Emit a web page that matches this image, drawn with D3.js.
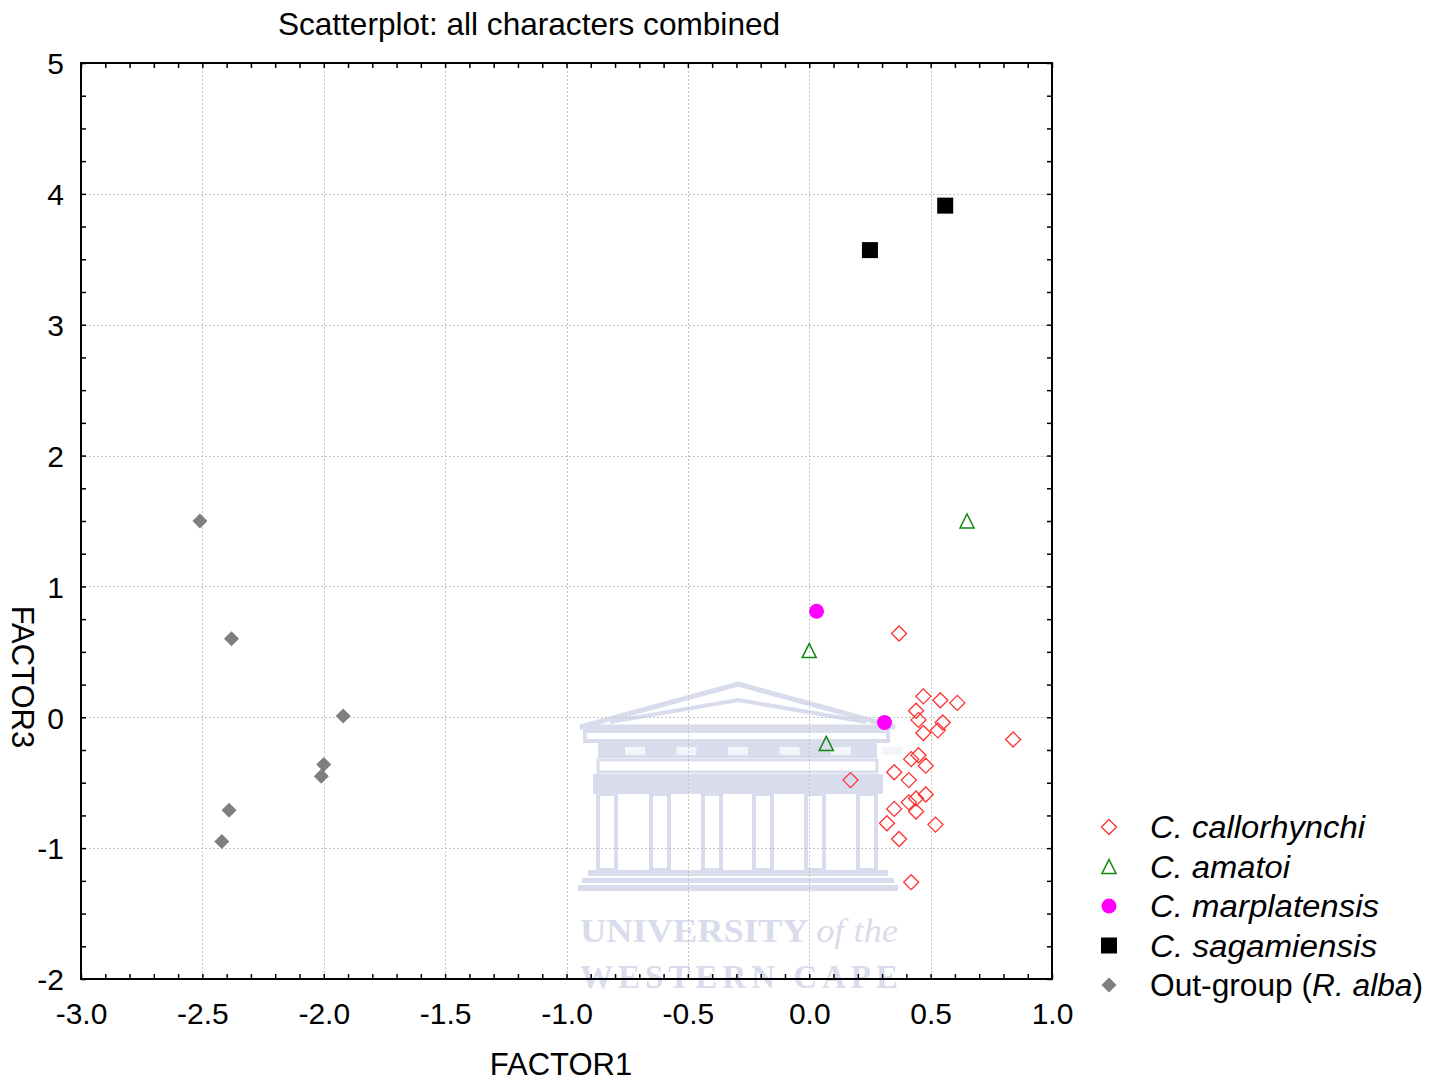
<!DOCTYPE html>
<html>
<head>
<meta charset="utf-8">
<script src="https://cdn.jsdelivr.net/npm/d3@7"></script>
<style>
  html, body { margin: 0; padding: 0; background: #fff; }
  svg { display: block; font-family: "Liberation Sans", Arial, sans-serif; }
</style>
</head>
<body>
<svg id="chart" width="1442" height="1082"></svg>
<script>
// ---------- DATA ----------
const xTicks = [-3.0, -2.5, -2.0, -1.5, -1.0, -0.5, 0.0, 0.5, 1.0];
const yTicks = [-2, -1, 0, 1, 2, 3, 4, 5];

const callorhynchi = [
  [0.37, 0.64], [0.47, 0.16], [0.54, 0.13], [0.61, 0.11], [0.44, 0.05],
  [0.45, -0.02], [0.55, -0.04], [0.47, -0.12], [0.53, -0.10], [0.84, -0.17],
  [0.42, -0.32], [0.45, -0.29], [0.48, -0.37], [0.35, -0.42], [0.41, -0.48],
  [0.17, -0.48], [0.48, -0.59], [0.44, -0.62], [0.41, -0.65], [0.35, -0.70],
  [0.44, -0.72], [0.32, -0.81], [0.52, -0.82], [0.37, -0.93], [0.42, -1.26]
];
const amatoi = [[0.00, 0.51], [0.07, -0.20], [0.65, 1.50]];
const marplatensis = [[0.03, 0.81], [0.31, -0.04]];
const sagamiensis = [[0.56, 3.91], [0.25, 3.57]];
const outgroup = [
  [-2.51, 1.50], [-2.38, 0.60], [-1.92, 0.01], [-2.00, -0.36],
  [-2.01, -0.45], [-2.39, -0.71], [-2.42, -0.95]
];

const legendItems = [
  { key: "callorhynchi", parts: [["C. callorhynchi", true]] },
  { key: "amatoi", parts: [["C. amatoi", true]] },
  { key: "marplatensis", parts: [["C. marplatensis", true]] },
  { key: "sagamiensis", parts: [["C. sagamiensis", true]] },
  { key: "outgroup", parts: [["Out-group (", false], ["R. alba", true], [")", false]] }
];

// ---------- LAYOUT ----------
const legendTextWidth = { callorhynchi: 215, amatoi: 140, marplatensis: 229, sagamiensis: 227, outgroup: 273 };

// ---------- SETUP ----------
const svg = d3.select("#chart");
const L = 81, R = 1052, T = 63, B = 979;
const x = d3.scaleLinear().domain([-3, 1]).range([L, R]);
const y = d3.scaleLinear().domain([-2, 5]).range([B, T]);
const FS = 30;

// ---------- WATERMARK (decorative) ----------
const wm = svg.append("g");
(function drawWatermark() {
  const g = wm;
  const c = "#d9dcec";
  g.append("path").attr("d", "M580,727 L738,684 L895,727 Z").attr("fill", "none").attr("stroke", c).attr("stroke-width", 5);
  g.append("path").attr("d", "M610,722 L738,700 L866,722").attr("fill", "none").attr("stroke", c).attr("stroke-width", 4);
  g.append("rect").attr("x", 585).attr("y", 731).attr("width", 303).attr("height", 10).attr("fill", "none").attr("stroke", c).attr("stroke-width", 4);
  g.append("rect").attr("x", 598).attr("y", 743).attr("width", 279).attr("height", 15).attr("fill", c);
  g.selectAll("rect.slot").data(d3.range(0, 6)).join("rect").attr("class", "slot")
    .attr("x", i => 625 + i * 51.5).attr("y", 747).attr("width", 20).attr("height", 8)
    .attr("fill", "#f4f5fa");
  g.append("rect").attr("x", 598).attr("y", 760).attr("width", 279).attr("height", 12).attr("fill", "none").attr("stroke", c).attr("stroke-width", 3);
  g.append("rect").attr("x", 593).attr("y", 774).attr("width", 290).attr("height", 20).attr("fill", c);
  const cols = [607, 660, 712, 763, 815, 867];
  g.selectAll("rect.col").data(cols).join("rect").attr("class", "col")
    .attr("x", d => d - 9).attr("y", 794).attr("width", 18).attr("height", 76)
    .attr("fill", "none").attr("stroke", c).attr("stroke-width", 4);
  g.append("rect").attr("x", 588).attr("y", 870).attr("width", 300).attr("height", 6).attr("fill", c);
  g.append("rect").attr("x", 582).attr("y", 878).attr("width", 312).attr("height", 5).attr("fill", c);
  g.append("rect").attr("x", 578).attr("y", 885).attr("width", 320).attr("height", 6).attr("fill", c);
  const t1 = g.append("text").attr("x", 580).attr("y", 942).attr("fill", c)
    .style("font-family", "'Liberation Serif', 'DejaVu Serif', serif").style("font-weight", "bold").style("font-size", "33px")
    .attr("textLength", 318).attr("lengthAdjust", "spacingAndGlyphs");
  t1.append("tspan").text("UNIVERSITY ");
  t1.append("tspan").style("font-style", "italic").style("font-weight", "normal").text("of the");
  g.append("text").attr("x", 580).attr("y", 988).attr("fill", c)
    .style("font-family", "'Liberation Serif', 'DejaVu Serif', serif").style("font-weight", "bold").style("font-size", "33px")
    .attr("textLength", 318).text("WESTERN CAPE");
})();

// ---------- GRID ----------
const grid = svg.append("g").attr("stroke", "#c4c4c4").attr("stroke-width", 1).attr("stroke-dasharray", "2,2");
grid.selectAll("line.gx").data(xTicks.filter(d => d > -3 && d < 1)).join("line").attr("class", "gx")
  .attr("x1", d => Math.round(x(d)) + 0.5).attr("x2", d => Math.round(x(d)) + 0.5).attr("y1", T).attr("y2", B);
grid.selectAll("line.gy").data(yTicks.filter(d => d > -2 && d < 5)).join("line").attr("class", "gy")
  .attr("y1", d => Math.round(y(d)) + 0.5).attr("y2", d => Math.round(y(d)) + 0.5).attr("x1", L).attr("x2", R);

// ---------- AXES ----------
const xMinor = d3.range(-30, 11).map(i => i / 10);
const yMinor = d3.range(-8, 21).map(i => i / 4);
const tickLen = 5;

function styleAxis(g) {
  g.selectAll(".domain").remove();
  g.selectAll(".tick line").attr("stroke", "#000").attr("stroke-width", 1.5);
}
svg.append("g").attr("transform", `translate(0,${B})`)
  .call(d3.axisBottom(x).tickValues(xMinor).tickSize(-tickLen).tickFormat("")).call(styleAxis);
svg.append("g").attr("transform", `translate(0,${T})`)
  .call(d3.axisTop(x).tickValues(xMinor).tickSize(-tickLen).tickFormat("")).call(styleAxis);
svg.append("g").attr("transform", `translate(${L},0)`)
  .call(d3.axisLeft(y).tickValues(yMinor).tickSize(-tickLen).tickFormat("")).call(styleAxis);
svg.append("g").attr("transform", `translate(${R},0)`)
  .call(d3.axisRight(y).tickValues(yMinor).tickSize(-tickLen).tickFormat("")).call(styleAxis);

// labels
const xl = svg.append("g").attr("transform", `translate(0,${B})`)
  .call(d3.axisBottom(x).tickValues(xTicks).tickSize(0).tickPadding(0).tickFormat(d => d.toFixed(1)));
xl.select(".domain").remove();
xl.selectAll("text").attr("y", 45).attr("dy", null).style("font-size", FS + "px").style("font-family", "'Liberation Sans', Arial, sans-serif").attr("fill", "#000");

const yl = svg.append("g").attr("transform", `translate(${L},0)`)
  .call(d3.axisLeft(y).tickValues(yTicks).tickSize(0).tickPadding(0).tickFormat(d => String(d)));
yl.select(".domain").remove();
yl.selectAll("text").attr("x", -17).attr("dy", "0.36em").style("font-size", FS + "px").style("font-family", "'Liberation Sans', Arial, sans-serif").attr("fill", "#000");

// frame
svg.append("rect").attr("x", L).attr("y", T).attr("width", R - L).attr("height", B - T)
  .attr("fill", "none").attr("stroke", "#000").attr("stroke-width", 2);

// ---------- TITLES ----------
svg.append("text").attr("x", 529).attr("y", 35).attr("text-anchor", "middle")
  .style("font-size", "31.6px").text("Scatterplot: all characters combined");
svg.append("text").attr("x", 561).attr("y", 1075).attr("text-anchor", "middle")
  .style("font-size", "31px").text("FACTOR1");
svg.append("text").attr("transform", "translate(12,677) rotate(90)").attr("text-anchor", "middle")
  .style("font-size", "31px").text("FACTOR3");

// ---------- MARKERS ----------
const sym = {
  callorhynchi: g => g.append("path").attr("d", "M0,-7.5 L7.5,0 L0,7.5 L-7.5,0 Z").attr("fill", "none").attr("stroke", "#ff3030").attr("stroke-width", 1.3),
  amatoi: g => g.append("path").attr("d", "M0,-7 L7,7 L-7,7 Z").attr("fill", "none").attr("stroke", "#108810").attr("stroke-width", 1.5),
  marplatensis: g => g.append("circle").attr("r", 7.5).attr("fill", "#ff00ff"),
  sagamiensis: g => g.append("rect").attr("x", -8).attr("y", -8).attr("width", 16).attr("height", 16).attr("fill", "#000"),
  outgroup: g => g.append("path").attr("d", "M0,-7.5 L7.5,0 L0,7.5 L-7.5,0 Z").attr("fill", "#7f7f7f")
};
const seriesData = { callorhynchi, amatoi, marplatensis, sagamiensis, outgroup };
const drawOrder = ["outgroup", "sagamiensis", "marplatensis", "amatoi", "callorhynchi"];
drawOrder.forEach(k => {
  const g = svg.append("g").attr("class", "series-" + k);
  g.selectAll("g.pt").data(seriesData[k]).join("g").attr("class", "pt")
    .attr("transform", d => `translate(${x(d[0])},${y(d[1])})`)
    .each(function () { sym[k](d3.select(this)); });
});

// ---------- LEGEND ----------
const legY = d3.scalePoint().domain(legendItems.map(d => d.key)).range([827, 985]);
const leg = svg.append("g");
legendItems.forEach(item => {
  const row = leg.append("g").attr("transform", `translate(1109,${legY(item.key)})`);
  sym[item.key](row);
  const t = row.append("text").attr("x", 41).attr("dy", "0.36em").style("font-size", "31px")
    .attr("textLength", legendTextWidth[item.key]).attr("lengthAdjust", "spacingAndGlyphs");
  item.parts.forEach(([s, it]) => t.append("tspan").style("font-style", it ? "italic" : "normal").text(s));
});
</script>
</body>
</html>
